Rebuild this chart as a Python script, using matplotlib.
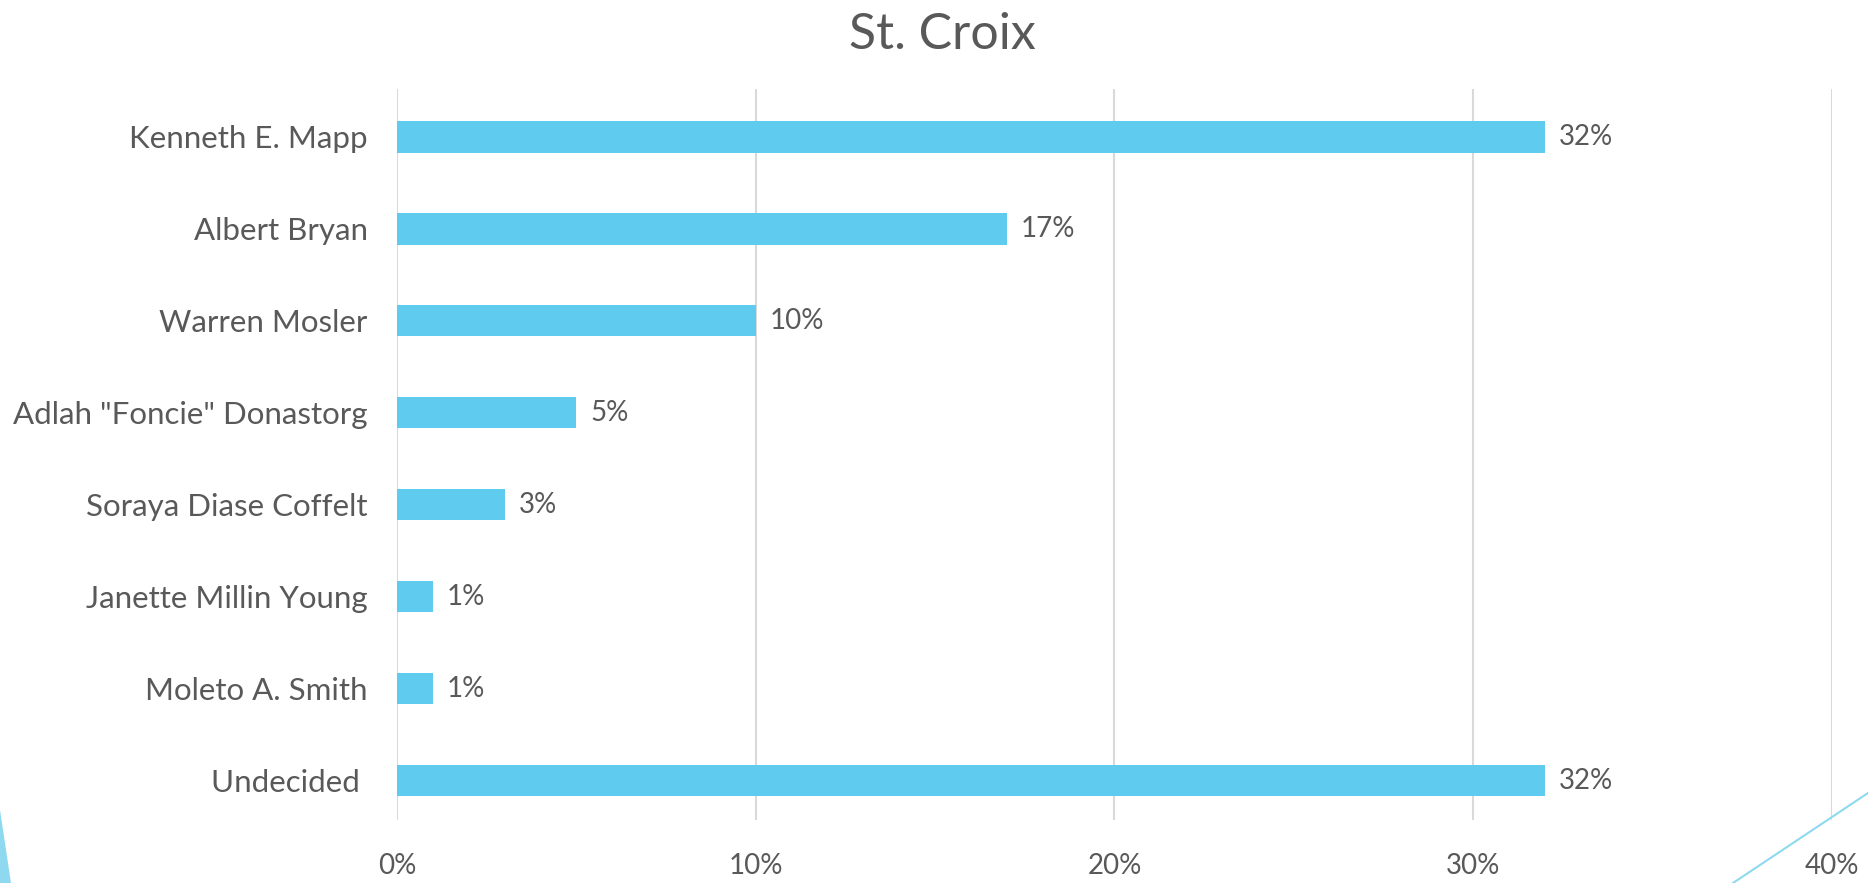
import matplotlib
matplotlib.use("Agg")
import matplotlib.pyplot as plt
from matplotlib.patches import Polygon
from matplotlib.lines import Line2D

# chart data
candidates = ["Kenneth E. Mapp", "Albert Bryan", "Warren Mosler",
              'Adlah "Foncie" Donastorg', "Soraya Diase Coffelt",
              "Janette Millin Young", "Moleto A. Smith", "Undecided "]
shares = [32, 17, 10, 5, 3, 1, 1, 32]
x_ticks = [0, 10, 20, 30, 40]
x_labels = ["0%", "10%", "20%", "30%", "40%"]

text_color = "#595959"
bar_color = "#5ECBEF"

plt.rcParams['font.family'] = ['Lato', 'DejaVu Sans']

fig = plt.figure(figsize=(18.68, 8.83), dpi=100)
ax = fig.add_axes([0.2125, 0.0713, 0.7682, 0.8277])

pos = list(range(len(candidates)))
ax.barh(pos, shares, height=0.34, color=bar_color, zorder=3)
for p, v in zip(pos, shares):
    ax.annotate(f"{v}%", (v, p), xytext=(10, 0), textcoords="offset points",
                va="center", ha="left", fontsize=20, color=text_color)

ax.set_ylim(7.43, -0.52)
ax.set_xlim(0, 40)
ax.set_yticks(pos)
ax.set_yticklabels(candidates)
ax.set_xticks(x_ticks)
ax.set_xticklabels(x_labels)
ax.tick_params(axis="y", length=0, pad=21, labelsize=22.5, labelcolor=text_color)
ax.tick_params(axis="x", length=0, pad=24, labelsize=20, labelcolor=text_color)

ax.grid(axis="x", color="#D9D9D9", linewidth=1.5, zorder=0)
for s in ax.spines.values():
    s.set_visible(False)

fig.text(0.5045, 0.96, "St. Croix", ha="center", va="center",
         fontsize=36, color=text_color)

# slide decorations in the corners
fig.patches.append(Polygon([(0, 0), (0, 73 / 883), (11 / 1868, 0)],
                           closed=True, transform=fig.transFigure,
                           facecolor="#8FD9F0", edgecolor="none"))
fig.lines.append(Line2D([1733 / 1868, 1.0], [0, 90 / 883],
                        transform=fig.transFigure, color="#8FD9F0", linewidth=1.5))

fig.savefig("out.png", dpi=100)
